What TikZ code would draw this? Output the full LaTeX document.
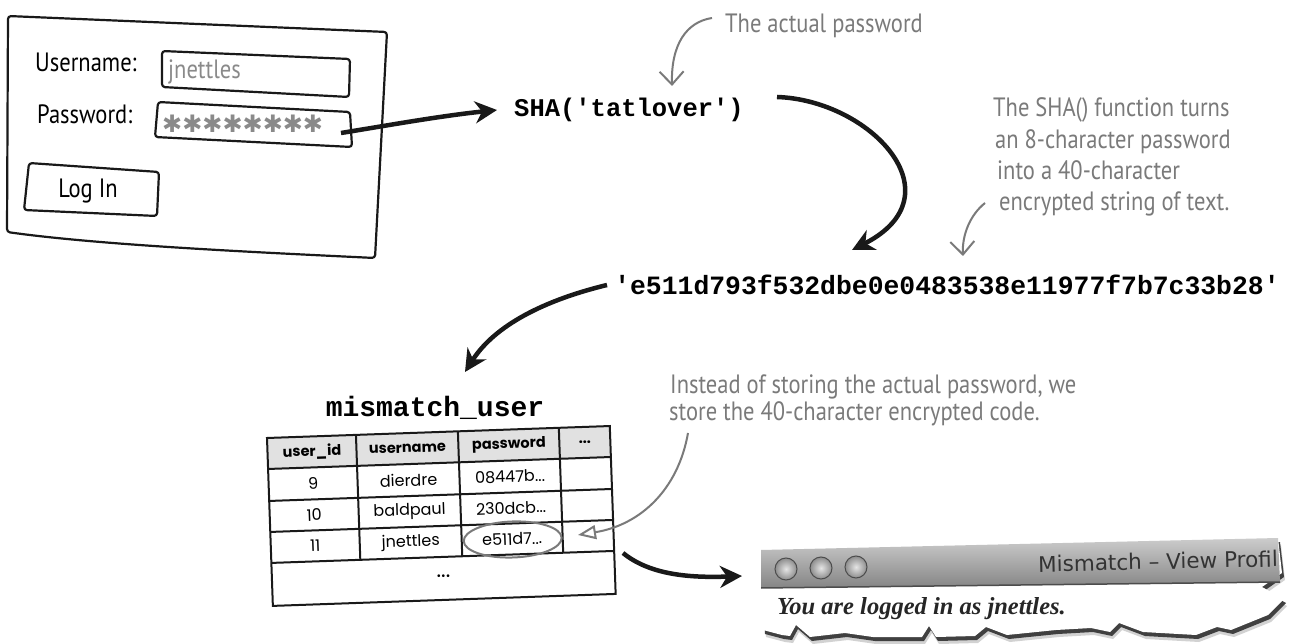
\documentclass[tikz,border=0pt]{standalone}
\usepackage{fontspec}
\setmainfont{Liberation Serif}
\newfontfamily\handfont[FakeStretch=0.85]{PT Sans}
\newfontfamily\codefont{Liberation Mono}
\newfontfamily\tablefont{Poppins}
\newfontfamily\uifont{DejaVu Sans}
\newfontfamily\symfont{DejaVu Sans}
\usetikzlibrary{arrows.meta}
\definecolor{annogray}{HTML}{7A7A7A}
\definecolor{fieldgray}{HTML}{8A8A8A}
\definecolor{hdrgray}{HTML}{E1E1E1}
\tikzset{
  hand/.style={font=\handfont\fontsize{26.5}{30}\selectfont, inner sep=0pt},
  anno/.style={hand, text=annogray},
  code/.style={font=\codefont\bfseries\fontsize{25.5}{30}\selectfont, inner sep=0pt},
  sketch/.style={draw=black!90, line width=2.2pt, line join=round, rounded corners=3pt},
  bigarrow/.style={draw=black!90, line width=4.5pt, -{Stealth[length=22pt,width=22pt,inset=7pt]}},
  annoarrow/.style={draw=annogray, line width=2pt, -{Straight Barb[length=13pt,width=24pt]}},
  openarrow/.style={draw=annogray, line width=2pt, -{Triangle[open,length=18pt,width=14pt]}},
  cell/.style={font=\tablefont\fontsize{16}{18}\selectfont, inner sep=0pt},
  hcell/.style={font=\tablefont\bfseries\fontsize{14.5}{16}\selectfont, inner sep=0pt},
  grid/.style={draw=black!90, line width=2pt},
  torn/.style={insert path={(761,550) -- (1278,538) -- (1282,573) -- (1262,587) -- (1284,599) -- (1268,615) -- (1231,630) -- (1217,627) -- (1196,635) -- (1143,632) -- (1119,623) -- (1110,632) -- (1091,628) -- (1056,630) -- (1007,635) -- (986,627) -- (975,636) -- (936,637) -- (929,626) -- (922,637) -- (873,637) -- (845,633) -- (810,637) -- (796,625) -- (790,636) -- (782,635) -- (763,630) -- cycle}}
}
\begin{document}
\begin{tikzpicture}[x=1pt,y=-1pt]
\useasboundingbox (0,0) rectangle (1291,644);
\fill[white] (0,0) rectangle (1291,644);

% ---------- login form ----------
\draw[sketch] (8,16) -- (387,32) -- (375,258) .. controls (250,252) and (100,245) .. (7,232) -- cycle;
\draw[sketch] (162,51) -- (350,59) -- (349,97) -- (162,87) -- cycle;
\draw[sketch] (158,102) -- (350,112) -- (352,147) -- (155,137) -- cycle;
\draw[sketch] (29,163) -- (159,172) -- (157,216) -- (24,210) -- cycle;
\node[hand, anchor=west] (ulabel) at (35,62) {Username:};
\node[hand, anchor=west] (plabel) at (37,114) {Password:};
\node[hand, anchor=west, text=fieldgray] (uval) at (168,72) {jnettles};
\node[anchor=west, inner sep=0pt, text=fieldgray, font=\symfont\fontsize{24}{26}\selectfont] (pval) at (162,124) {✱✱✱✱✱✱✱✱};
\node[hand] (login) at (88,191) {Log In};

% ---------- SHA ----------
\node[code] (sha) at (629,110) {SHA('tatlover')};
\node[code, font=\codefont\bfseries\fontsize{26.4}{30}\selectfont] (hash) at (947,285) {'e511d793f532dbe0e0483538e11977f7b7c33b28'};
\node[code, font=\codefont\bfseries\fontsize{28}{32}\selectfont] (tname) at (435,408) {mismatch\_user};

% annotations
\node[anno, anchor=base west] (actual) at (725,33) {The actual password};
\node[anno, anchor=base west] (sha1) at (993,117) {The SHA() function turns};
\node[anno, anchor=base west] (sha2) at (995,149) {an 8-character password};
\node[anno, anchor=base west] (sha3) at (997,180) {into a 40-character};
\node[anno, anchor=base west] (sha4) at (999,211) {encrypted string of text.};
\node[anno, anchor=base west] (inst1) at (670,393) {Instead of storing the actual password, we};
\node[anno, anchor=base west] (inst2) at (669,420) {store the 40-character encrypted code.};

% ---------- table ----------
\begin{scope}[shift={(267,438)}, rotate=2, transform shape]
  \fill[hdrgray] (0,0) rectangle (343,31);
  \draw[grid] (0,0) rectangle (343,168);
  \foreach \yy in {31,63,94,125} \draw[grid] (0,\yy) -- (343,\yy);
  \foreach \xx in {89,191,292} \draw[grid] (\xx,0) -- (\xx,125);
  \node[hcell] (h1) at (44.5,15.5) {user\_id};
  \node[hcell] (h2) at (140,15.5) {username};
  \node[hcell] (h3) at (241.5,15.5) {password};
  \node[hcell] (h4) at (317.5,15.5) {...};
  \node[cell] (r1a) at (44.5,47) {9};
  \node[cell] (r1b) at (140,47) {dierdre};
  \node[cell] (r1c) at (241.5,47) {08447b...};
  \node[cell] (r2a) at (44.5,78.5) {10};
  \node[cell] (r2b) at (140,78.5) {baldpaul};
  \node[cell] (r2c) at (241.5,78.5) {230dcb...};
  \node[cell] (r3a) at (44.5,109.5) {11};
  \node[cell] (r3b) at (140,109.5) {jnettles};
  \node[cell] (r3c) at (241.5,109.5) {e511d7...};
  \node[cell, font=\tablefont\fontsize{22}{24}\selectfont] (rlast) at (171.5,144) {...};
  \draw[annogray, line width=2pt] (242,110) ellipse [x radius=49, y radius=18];
\end{scope}

% ---------- window ----------
\fill[black!35, opacity=0.5, shift={(3,7)}] [torn];
\fill[black!75, shift={(2,4)}] [torn];
\fill[white] [torn];
\shade[top color=black!20, bottom color=black!48] (761,550) -- (1278,538) -- (1280,582) -- (761,588) -- cycle;
\draw[black!70, line width=1.5pt] (761,588) -- (1280,582);
\foreach \cx/\cy in {786/569, 821/568, 856/567}
  \shade[inner color=black!10, outer color=black!45, draw=black!70, line width=1pt] (\cx,\cy) circle [radius=11];
\begin{scope}
  \clip (761,536) -- (1276,536) -- (1278,590) -- (761,590) -- cycle;
  \node[anchor=west, inner sep=0pt, text=black!80, rotate=1.3, font=\uifont\fontsize{21.5}{24}\selectfont] (wtitle) at (1038,564) {Mismatch – View Profile};
\end{scope}
\node[anchor=west, inner sep=0pt, text=black!85, font=\rmfamily\bfseries\itshape\fontsize{24.5}{28}\selectfont] (wtext) at (777,609) {You are logged in as jnettles.};
\coordinate (winin) at (742,576);

% ---------- connectors ----------
\coordinate (pwout) at (341,133);
\coordinate (shain) at (497,110);
\draw[bigarrow] (pwout) .. controls (390,125) and (440,116) .. (shain);
\coordinate (shaout) at (777,97);
\coordinate (hashin) at (852,250);
\draw[bigarrow] (shaout) .. controls (870,100) and (960,195) .. (hashin);
\coordinate (hashout) at (607,285);
\coordinate (tablein) at (465,372);
\draw[bigarrow] (hashout) .. controls (545,300) and (495,325) .. (tablein);
\coordinate (tableout) at (623,553);
\draw[bigarrow] (tableout) .. controls (650,575) and (690,578) .. (winin);

\coordinate (a1s) at (712,18);
\coordinate (a1e) at (672,86);
\draw[annoarrow] (a1s) .. controls (686,22) and (671,45) .. (a1e);
\coordinate (a2s) at (985,203);
\coordinate (a2e) at (963,256);
\draw[annoarrow] (a2s) .. controls (970,215) and (962,235) .. (a2e);
\coordinate (a3s) at (688,433);
\coordinate (a3e) at (578,535);
\draw[openarrow] (a3s) .. controls (678,490) and (640,525) .. (a3e);
\end{tikzpicture}
\end{document}
